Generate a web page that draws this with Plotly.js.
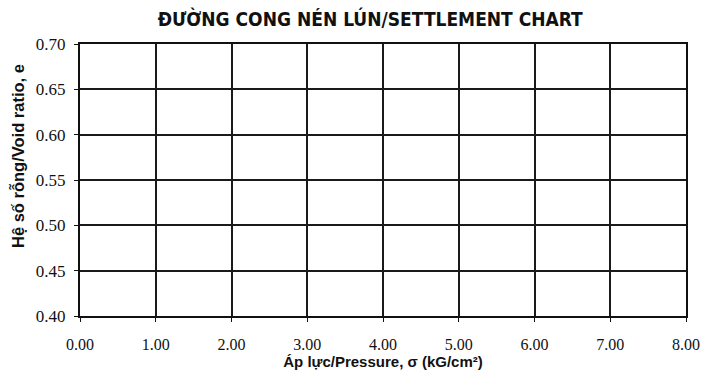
<!DOCTYPE html>
<html>
<head>
<meta charset="utf-8">
<script src="https://cdn.plot.ly/plotly-3.0.1.min.js"></script>
<style>html,body{margin:0;padding:0;background:#fff;}#chart{width:719px;height:376px;}</style>
</head>
<body>
<div id="chart"></div>
<script>
const pressureTicks = [0, 1, 2, 3, 4, 5, 6, 7, 8];
const pressureTickLabels = ["0.00", "1.00", "2.00", "3.00", "4.00", "5.00", "6.00", "7.00", "8.00"];
const voidRatioTicks = [0.40, 0.45, 0.50, 0.55, 0.60, 0.65, 0.70];
const voidRatioTickLabels = ["0.40", "0.45", "0.50", "0.55", "0.60", "0.65", "0.70"];
const pressureData = [];
const voidRatioData = [];

const traces = [{
  x: pressureData, y: voidRatioData, type: 'scatter', mode: 'lines+markers',
  line: {color: '#000'}, showlegend: false, hoverinfo: 'skip'
}];

const layout = {
  width: 719, height: 376,
  margin: {l: 80, r: 33, t: 44, b: 60},
  paper_bgcolor: '#fff', plot_bgcolor: '#fff',
  title: {
    text: 'ĐƯỜNG CONG NÉN LÚN/SETTLEMENT CHART',
    font: {family: '"DejaVu Sans Condensed", "Liberation Sans", sans-serif', size: 19, color: '#111', weight: 'bold'},
    x: 0.515, xanchor: 'center', y: 0.948, yanchor: 'middle'
  },
  xaxis: {
    range: [0, 8], tickvals: pressureTicks, ticktext: pressureTickLabels,
    showgrid: true, gridcolor: '#1a1a1a', gridwidth: 2,
    showline: true, linecolor: '#111', linewidth: 2, mirror: true,
    ticks: 'outside', ticklen: 4, tickcolor: '#111', tickwidth: 1,
    ticklabelstandoff: 9,
    zeroline: false,
    tickfont: {family: '"Liberation Serif", "Times New Roman", serif', size: 16, color: '#111'},
    title: {text: 'Áp lực/Pressure, σ (kG/cm²)', standoff: 2,
      font: {family: '"Liberation Sans", Arial, sans-serif', size: 15, color: '#111', weight: 'bold'}}
  },
  yaxis: {
    range: [0.40, 0.70], tickvals: voidRatioTicks, ticktext: voidRatioTickLabels,
    showgrid: true, gridcolor: '#1a1a1a', gridwidth: 2,
    showline: true, linecolor: '#111', linewidth: 2, mirror: true,
    ticks: 'outside', ticklen: 4, tickcolor: '#111', tickwidth: 1,
    ticklabelstandoff: 5,
    zeroline: false,
    tickfont: {family: '"Liberation Serif", "Times New Roman", serif', size: 17, color: '#111'}
  },
  annotations: [{
    text: 'Hệ số rỗng/Void ratio, e', textangle: -90,
    xref: 'paper', yref: 'paper', x: 0, xshift: -62, xanchor: 'center',
    y: 0.5, yshift: 24, yanchor: 'middle', showarrow: false,
    font: {family: '"Liberation Sans", Arial, sans-serif', size: 16.5, color: '#111', weight: 'bold'}
  }]
};

Plotly.newPlot('chart', traces, layout, {staticPlot: true, displayModeBar: false});
</script>
</body>
</html>
